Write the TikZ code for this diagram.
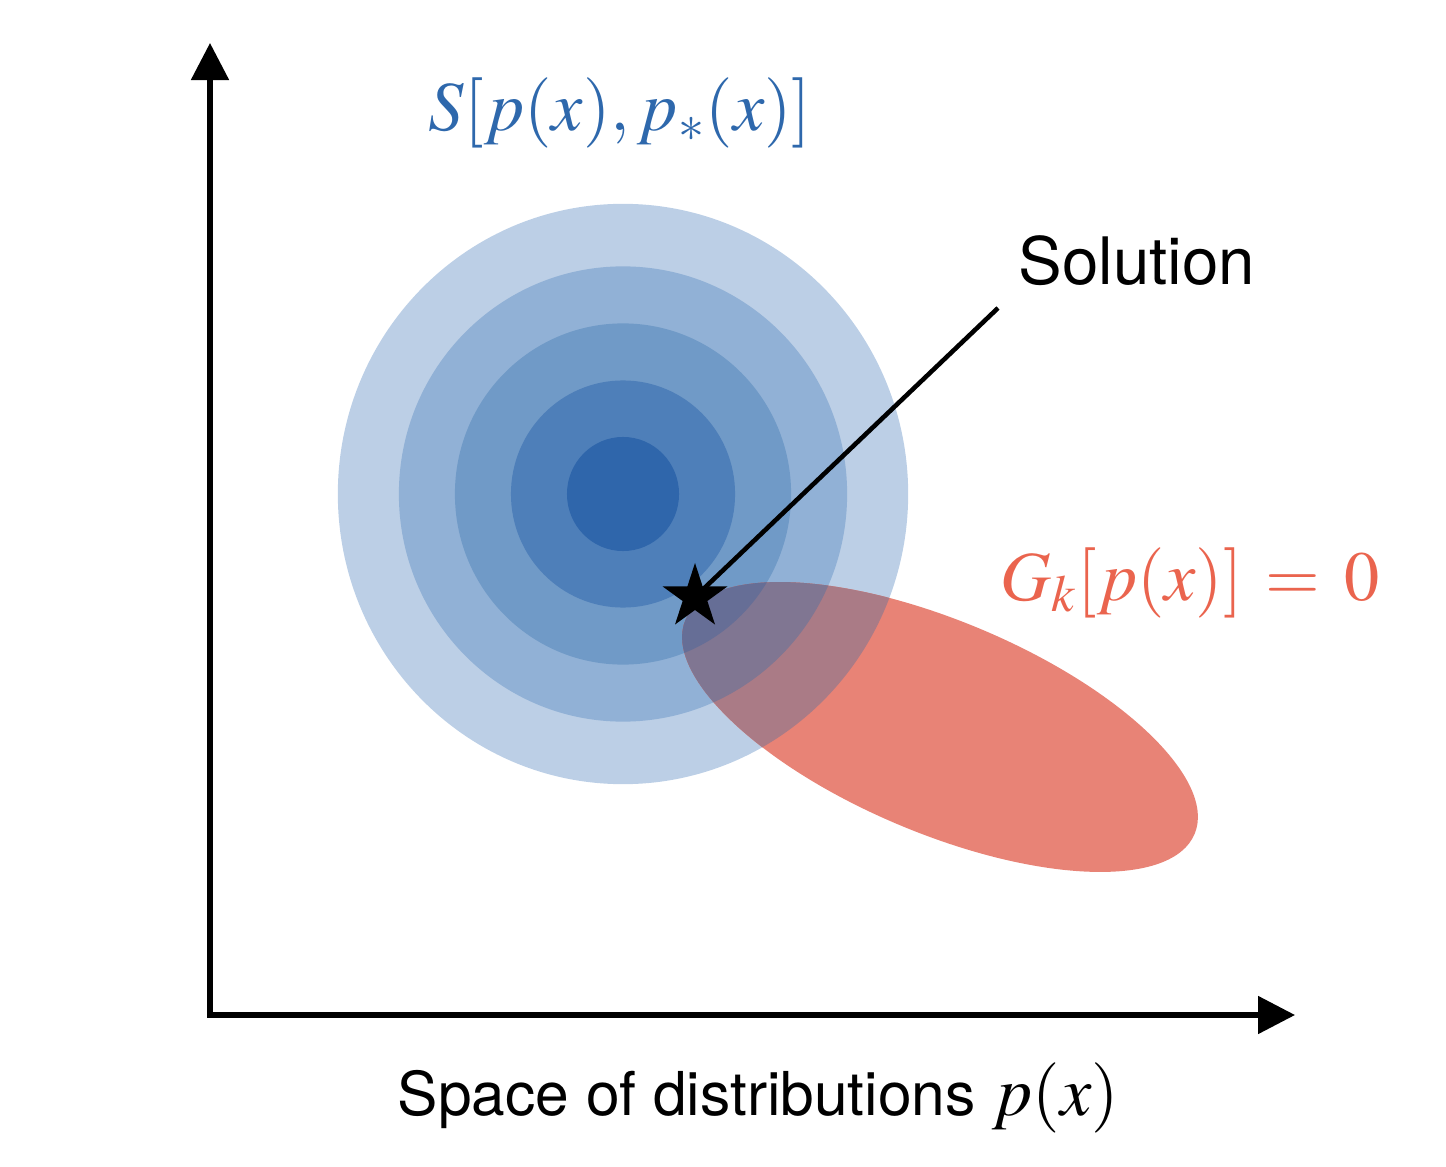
\documentclass[tikz,border=0pt]{standalone}
\usepackage{mathptmx}
\usepackage{fontspec}
\setmainfont{TeX Gyre Heros}
\usetikzlibrary{arrows.meta,shapes.geometric}
\pgfdeclarelayer{front}
\pgfsetlayers{main,front}
\definecolor{ringA}{RGB}{188,207,230}
\definecolor{ringB}{RGB}{145,177,214}
\definecolor{ringC}{RGB}{112,154,199}
\definecolor{ringD}{RGB}{78,127,185}
\definecolor{ringE}{RGB}{47,102,171}
\definecolor{ovA}{RGB}{170,123,134}
\definecolor{ovB}{RGB}{128,118,146}
\definecolor{ovC}{RGB}{102,110,150}
\definecolor{ovD}{RGB}{82,100,150}
\definecolor{ovE}{RGB}{62,88,150}
\definecolor{redfill}{RGB}{232,131,118}
\definecolor{bluetext}{RGB}{46,104,172}
\definecolor{redtext}{RGB}{234,100,78}
\begin{document}
\begin{tikzpicture}[x=0.01cm,y=0.01cm,
  lbl/.style={inner sep=0pt, font=\fontsize{18.6}{22}\selectfont},
  mlbl/.style={inner sep=0pt, font=\fontsize{20}{24}\selectfont},
  axis/.style={line width=1.45pt, {Triangle[length=0.37cm,width=0.37cm]}-{Triangle[length=0.37cm,width=0.37cm]}},
  starmark/.style={star, star points=5, star point ratio=2.618, fill=black, inner sep=0pt, minimum size=0.68cm},
  redell/.style={rotate around={-22.8:(940,439)}}]
\useasboundingbox (0,0) rectangle (1446,1166);
% rings
\fill[ringA] (623,672) ellipse [x radius=2.85cm, y radius=2.90cm];
\fill[ringB] (623,672) ellipse [x radius=2.24cm, y radius=2.275cm];
\fill[ringC] (623,672) ellipse [x radius=1.68cm, y radius=1.705cm];
\fill[ringD] (623,672) ellipse [x radius=1.12cm, y radius=1.135cm];
\fill[ringE] (623,672) ellipse [x radius=0.56cm, y radius=0.57cm];
% red ellipse
\fill[redfill, redell] (940,439) ellipse [x radius=2.76cm, y radius=1.06cm];
\begin{scope}
\clip[redell] (940,439) ellipse [x radius=2.76cm, y radius=1.06cm];
\fill[ovA] (623,672) ellipse [x radius=2.85cm, y radius=2.90cm];
\fill[ovB] (623,672) ellipse [x radius=2.24cm, y radius=2.275cm];
\fill[ovC] (623,672) ellipse [x radius=1.68cm, y radius=1.705cm];
\fill[ovD] (623,672) ellipse [x radius=1.12cm, y radius=1.135cm];
\fill[ovE] (623,672) ellipse [x radius=0.56cm, y radius=0.57cm];
\end{scope}
% axes
\coordinate (ytip) at (210,1123);
\coordinate (O) at (210,151);
\coordinate (xtip) at (1295,151);
\draw[axis] (ytip) -- (O) -- (xtip);
% solution
\begin{pgfonlayer}{front}
\node[starmark] (sol) at (695,569) {};
\end{pgfonlayer}
\coordinate (lineend) at (998,858);
\draw[line width=1.3pt] (sol.center) -- (lineend);
\node[lbl, anchor=base west] (soltext) at (1018,881) {Solution};
% labels
\node[mlbl, anchor=base, text=bluetext] (slabel) at (620,1035) {$S[p(x),p_*(x)]$};
\node[mlbl, anchor=base west, text=redtext] (glabel) at (1000,566) {$G_k[p(x)]\,=\,0$};
\node[lbl, anchor=base west, font=\fontsize{17.2}{21}\selectfont] (xlabel) at (397,51) {Space of distributions {\fontsize{20}{24}\selectfont$p(x)$}};
\end{tikzpicture}
\end{document}
